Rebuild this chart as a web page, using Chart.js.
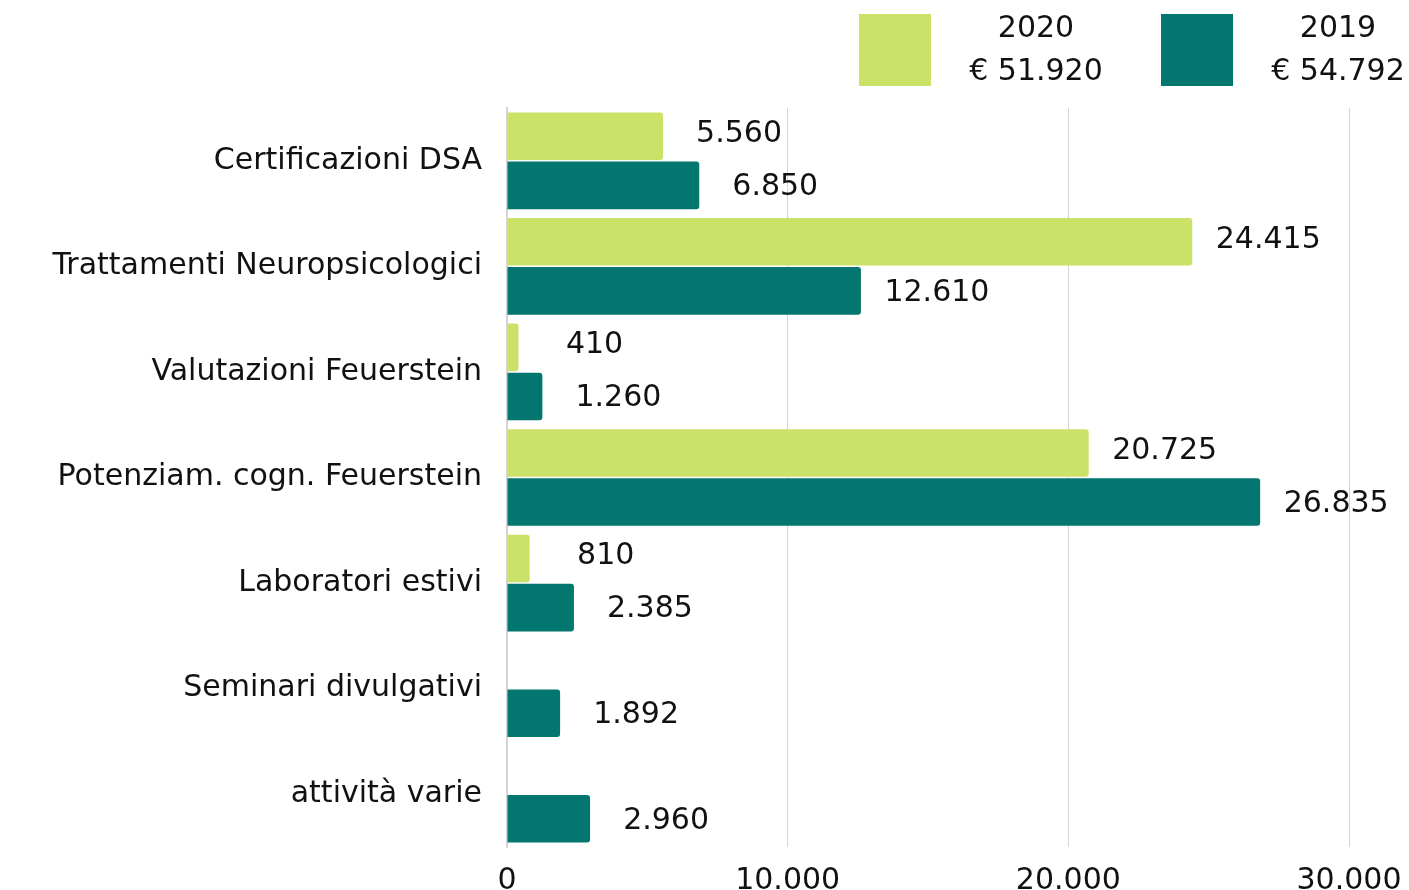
<!DOCTYPE html>
<html>
<head>
<meta charset="utf-8">
<script src="https://cdn.jsdelivr.net/npm/chart.js@4/dist/chart.umd.min.js"></script>
<style>
  html, body { margin: 0; padding: 0; background: #fff; }
  canvas { display: block; }
</style>
</head>
<body>
<canvas id="chart" width="1409" height="890"></canvas>
<script>
// dati
const categorie = ["Certificazioni DSA", "Trattamenti Neuropsicologici", "Valutazioni Feuerstein",
  "Potenziam. cogn. Feuerstein", "Laboratori estivi", "Seminari divulgativi", "attività varie"];
const anni = ["2020", "2019"];
const valori2020 = [5560, 24415, 410, 20725, 810, null, null];
const valori2019 = [6850, 12610, 1260, 26835, 2385, 1892, 2960];
const tickX = [0, 10000, 20000, 30000];

const FONT = "'DejaVu Sans', sans-serif";
const verde = "#cbe268";
const teal = "#037670";

function formatIt(n) {
  return String(Math.round(n)).replace(/\B(?=(\d{3})+(?!\d))/g, ".");
}

// etichette valore a destra delle barre
const valueLabels = {
  id: "valueLabels",
  afterDatasetsDraw(chart) {
    const ctx = chart.ctx;
    ctx.save();
    ctx.font = "30px " + FONT;
    ctx.fillStyle = "#111";
    ctx.textAlign = "center";
    ctx.textBaseline = "middle";
    chart.data.datasets.forEach((ds, i) => {
      chart.getDatasetMeta(i).data.forEach((bar, j) => {
        const v = ds.data[j];
        if (v == null) return;
        ctx.fillText(formatIt(v), bar.x + 76, bar.y + (i === 0 ? -2 : 2));
      });
    });
    ctx.restore();
  }
};

// legenda in alto a destra con totale
const legendaTot = {
  id: "legendaTot",
  afterDraw(chart) {
    const ctx = chart.ctx;
    const boxes = [859, 1161];
    ctx.save();
    chart.data.datasets.forEach((ds, i) => {
      const x = boxes[i];
      ctx.fillStyle = ds.backgroundColor;
      ctx.fillRect(x, 14, 72, 72);
      const tot = ds.data.reduce((a, b) => a + (b || 0), 0);
      ctx.fillStyle = "#111";
      ctx.font = "30px " + FONT;
      ctx.textAlign = "center";
      ctx.textBaseline = "middle";
      ctx.fillText(ds.label, x + 177, 29);
      ctx.fillText("€ " + formatIt(tot), x + 177, 72);
    });
    ctx.restore();
  }
};

new Chart(document.getElementById("chart"), {
  type: "bar",
  data: {
    labels: categorie,
    datasets: [
      { label: anni[0], data: valori2020, backgroundColor: verde },
      { label: anni[1], data: valori2019, backgroundColor: teal }
    ]
  },
  options: {
    indexAxis: "y",
    responsive: false,
    animation: false,
    layout: { padding: { top: 108, right: 60, left: 0, bottom: 0 } },
    datasets: {
      bar: {
        categoryPercentage: 0.93,
        barPercentage: 0.97,
        borderRadius: 3,
        borderSkipped: "start"
      }
    },
    scales: {
      x: {
        min: 0,
        max: 30000,
        afterBuildTicks(scale) { scale.ticks = tickX.map(v => ({ value: v })); },
        afterFit(scale) {
          scale.height = 43;
          scale.paddingLeft = 0;
          scale.paddingRight = 0;
        },
        grid: { color: "#d4d4d4", drawTicks: false },
        border: { display: false },
        ticks: {
          color: "#111",
          padding: 16,
          font: { family: FONT, size: 30 },
          callback: v => formatIt(v)
        }
      },
      y: {
        afterFit(scale) { scale.width = 507; },
        grid: { display: false, drawTicks: false },
        border: { display: true, color: "#d4d4d4", width: 2 },
        ticks: {
          color: "#111",
          padding: 25,
          font: { family: FONT, size: 30 }
        }
      }
    },
    plugins: {
      legend: { display: false },
      tooltip: { enabled: false }
    }
  },
  plugins: [valueLabels, legendaTot]
});
</script>
</body>
</html>
